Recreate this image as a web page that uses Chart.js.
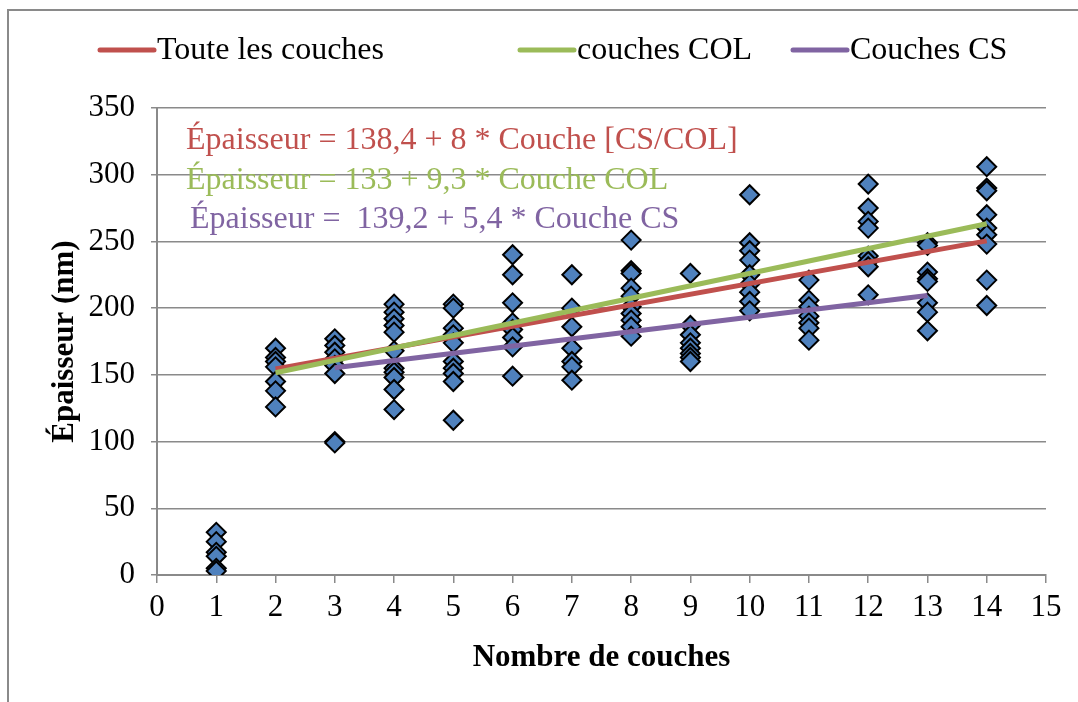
<!DOCTYPE html>
<html>
<head>
<meta charset="utf-8">
<script src="https://cdn.jsdelivr.net/npm/chart.js@4.4.0/dist/chart.umd.min.js"></script>
<style>
  html, body { margin: 0; padding: 0; background: #fff; }
</style>
</head>
<body>
<canvas id="chart" width="1078" height="702"></canvas>
<script>
// number of layers and measured thickness (nm) for each
const layerCounts = [1, 2, 3, 4, 5, 6, 7, 8, 9, 10, 11, 12, 13, 14];
const thickness = [
    [32, 25, 17, 14, 5, 3],
    [170, 163, 160, 156, 145, 138, 126],
    [177, 172, 167, 162, 157, 151, 100, 99],
    [203, 197, 192, 187, 182, 168, 155, 152, 148, 139, 124],
    [203, 200, 185, 180, 174, 160, 155, 151, 145, 116],
    [240, 225, 204, 189, 184, 178, 171, 149],
    [225, 200, 186, 170, 160, 156, 146],
    [251, 228, 226, 215, 209, 201, 196, 191, 186, 179],
    [226, 187, 180, 174, 170, 166, 163, 160],
    [285, 249, 243, 236, 225, 218, 212, 205, 198],
    [221, 206, 201, 194, 189, 185, 176],
    [293, 275, 265, 260, 239, 235, 231, 210],
    [249, 247, 227, 222, 220, 204, 197, 183],
    [306, 290, 288, 270, 260, 255, 248, 221, 202]
];

// fitted lines (end points)
const trendAllX = [2, 14];
const trendAllY = [154.4, 250.4];
const trendColX = [2, 14];
const trendColY = [151.6, 263.2];
const trendCsX = [3, 13];
const trendCsY = [155.4, 209.4];

const seriesLabels = ['Toute les couches', 'couches COL', 'Couches CS'];
const seriesColors = ['#C0504D', '#9BBB59', '#8064A2'];
const equations = [
    'Épaisseur = 138,4 + 8 * Couche [CS/COL]',
    'Épaisseur = 133 + 9,3 * Couche COL',
    'Épaisseur =  139,2 + 5,4 * Couche CS'
];

const serif = '"Liberation Serif", "Times New Roman", serif';

function toPoints(xs, ys) {
    return xs.map((x, i) => ({ x: x, y: ys[i] }));
}

const scatterPoints = [];
layerCounts.forEach((n, i) => {
    thickness[i].forEach(v => scatterPoints.push({ x: n, y: v }));
});

// frame, legend and equations drawn by hand (Excel-like placement)
const extras = {
    id: 'extras',
    afterDraw(chart) {
        const ctx = chart.ctx;
        ctx.save();
        ctx.strokeStyle = '#8a8a8a';
        ctx.lineWidth = 2;
        ctx.beginPath();
        ctx.moveTo(8, 702);
        ctx.lineTo(8, 10);
        ctx.lineTo(1078, 10);
        ctx.stroke();

        const legendX = [100, 520, 793];
        ctx.font = '32px ' + serif;
        ctx.textBaseline = 'middle';
        ctx.textAlign = 'left';
        seriesLabels.forEach((lbl, i) => {
            ctx.strokeStyle = seriesColors[i];
            ctx.lineWidth = 5;
            ctx.lineCap = 'round';
            ctx.beginPath();
            ctx.moveTo(legendX[i], 50);
            ctx.lineTo(legendX[i] + 54, 50);
            ctx.stroke();
            ctx.fillStyle = '#000';
            ctx.fillText(lbl, legendX[i] + 57, 51);
        });

        const eqX = [186, 186, 190];
        const eqY = [149, 189, 228];
        ctx.textBaseline = 'alphabetic';
        equations.forEach((t, i) => {
            ctx.fillStyle = seriesColors[i];
            ctx.fillText(t, eqX[i], eqY[i]);
        });
        ctx.restore();
    }
};

const gridGray = '#8a8a8a';

new Chart(document.getElementById('chart'), {
    type: 'scatter',
    data: {
        datasets: [
            {
                type: 'line', label: seriesLabels[1], data: toPoints(trendColX, trendColY),
                borderColor: seriesColors[1], borderWidth: 5, pointRadius: 0, order: 0
            },
            {
                type: 'line', label: seriesLabels[0], data: toPoints(trendAllX, trendAllY),
                borderColor: seriesColors[0], borderWidth: 5, pointRadius: 0, order: 1
            },
            {
                type: 'line', label: seriesLabels[2], data: toPoints(trendCsX, trendCsY),
                borderColor: seriesColors[2], borderWidth: 5, pointRadius: 0, order: 2
            },
            {
                label: 'Mesures', data: scatterPoints,
                pointStyle: 'rectRot', pointRadius: 9.5, pointHoverRadius: 9.5,
                backgroundColor: '#4F81BD', borderColor: '#000', borderWidth: 2, order: 3
            }
        ]
    },
    options: {
        responsive: false,
        animation: false,
        layout: { padding: { top: 108, right: 32, left: 0, bottom: 0 } },
        plugins: {
            legend: { display: false },
            tooltip: { enabled: false }
        },
        scales: {
            x: {
                type: 'linear', min: 0, max: 15,
                afterFit: s => { s.height = 127; },
                ticks: { stepSize: 1, color: '#000', padding: 6, font: { family: serif, size: 31 } },
                grid: { drawOnChartArea: false, color: gridGray, tickLength: 8, lineWidth: 1.5 },
                border: { color: gridGray, width: 2 },
                title: {
                    display: true, text: 'Nombre de couches', color: '#000',
                    font: { family: serif, size: 31, weight: 'bold' },
                    padding: { bottom: 25 }
                }
            },
            y: {
                min: 0, max: 350,
                afterFit: s => { s.width = 157; },
                ticks: { stepSize: 50, color: '#000', padding: 16, font: { family: serif, size: 31 } },
                grid: { color: gridGray, tickLength: 6, lineWidth: 1.5 },
                border: { color: gridGray, width: 2 },
                title: {
                    display: true, text: 'Épaisseur (nm)', color: '#000',
                    font: { family: serif, size: 31, weight: 'bold' },
                    padding: { top: 46 }
                }
            }
        }
    },
    plugins: [extras]
});
</script>
</body>
</html>
